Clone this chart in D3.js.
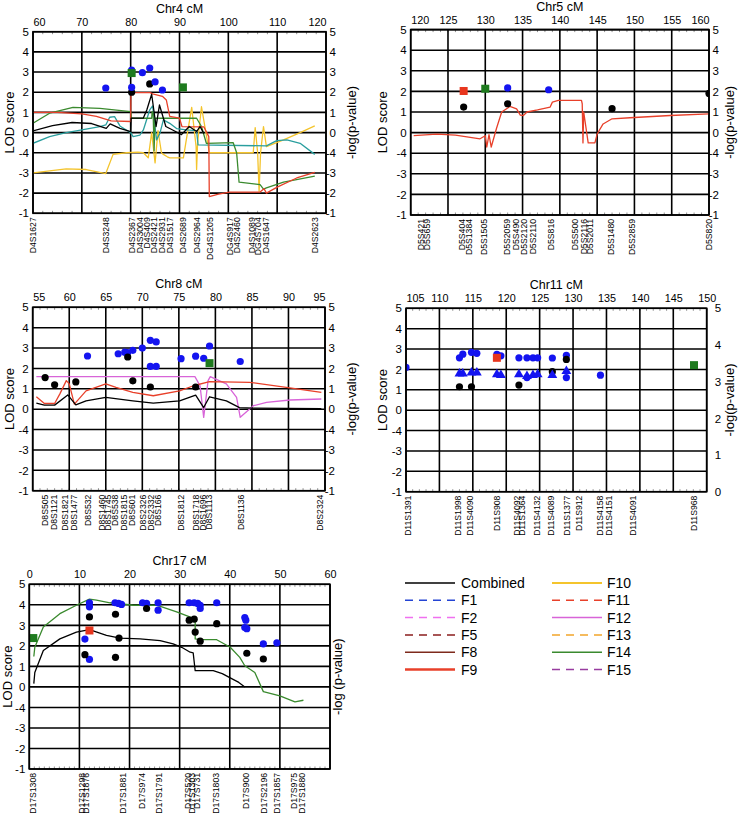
<!DOCTYPE html>
<html><head><meta charset="utf-8">
<script src="https://cdn.jsdelivr.net/npm/d3@7"></script>
<style>
body{margin:0;background:#fff;}
svg{display:block;font-family:"Liberation Sans",Arial,sans-serif;}
</style></head><body>
<svg id="c" width="738" height="814"></svg>
<script>
// ---------- shared axis data ----------
const yTickValues = [5,4,3,2,1,0,-1,-2,-3,-4];
const yTickLabels = ["5","4","3","2","1","0","-4","-3","-2","-1"];
const pTickValues = [0,1,2,3,4,5];
const pTickLabels = ["0","1","2","3","4","5"];

// ---------- Chr4 ----------
const chr4Ticks = [60,70,80,90,100,110,120];
const chr4MarkerNames = ["D4S1627","D4S3248","D4S2367","D4S3004","D4S409","D4S2421","D4S2931","D4S1517","D4S2689","D4S2964","DG4S1205","DG4S917","D4S2460","D4S1089","DG4S704","D4S1647","D4S2623"];
const chr4MarkerCM = [60,74.9,80.2,81.9,83.3,84.8,86.4,87.9,90.7,93.6,96.1,100.3,101.8,104.8,106.1,107.7,117.7];
const chr4Combined = [[60,0.08],[64,0.35],[68,0.5],[72,0.45],[75,0.21],[75.8,0.43],[77.8,0.21],[80,0.05],[80.1,0.72],[82.6,0.72],[83.3,1.12],[84.3,1.9],[85.2,0.3],[85.9,1.37],[87.2,0.3],[88.6,0.13],[90.4,-0.1],[92,0.3],[93.5,0.05],[94.2,0.3],[95,-0.05]];
const chr4F9 = [[60,1.0],[65,1.0],[70,0.93],[73,0.8],[75,0.65],[76,0.58],[80,0.55],[80.05,1.98],[84,1.98],[84.5,1.92],[86.5,1.8],[87.3,1.62],[88,0.8],[90,0.72],[90.5,0.3],[95,0.28],[96,-0.2],[96.1,-3.17],[98,-3.05],[100.3,-2.95],[106.5,-2.95],[107.3,-2.78],[107.8,-3.0],[110,-2.7],[114,-2.25],[117.7,-1.97]];
const chr4F14 = [[60,0.46],[63.4,0.96],[68.2,1.25],[73.7,1.2],[80,1.04],[80.2,0.71],[84.3,0.71],[84.4,1.04],[84.6,1.0],[84.8,-0.9],[85.0,0.71],[93.5,0.71],[94.5,0.3],[95.5,-0.53],[101,-0.5],[101.7,-1.0],[102.2,-2.46],[106.5,-2.58],[107.2,-2.8],[107.8,-2.74],[111.3,-2.46],[117.7,-2.16]];
const chr4Teal = [[60,-0.53],[63.4,-0.2],[66.8,0.0],[70,0.13],[73.7,0.3],[74.9,0.38],[75.7,0.76],[76.7,0.79],[77.8,0.33],[79.1,0.13],[80,0.0],[80.5,-0.2],[81.9,-0.12],[82.6,0.13],[83.2,0.59],[83.9,1.12],[84.5,1.32],[85.3,-0.36],[86,-0.03],[86.7,0.63],[88,0.46],[89.4,0.2],[91.4,0.13],[93.5,0.1],[93.8,-0.61],[107.8,-0.66],[109.9,-0.4],[112,-0.36],[114.7,-0.53],[117.7,-1.08]];
const chr4F10 = [[60,-2.0],[66.8,-1.8],[70.9,-1.83],[74.9,-2.03],[76.4,-1.08],[79.1,-1.0],[81.5,-0.97],[82.6,-1.0],[83.6,-1.25],[84.3,0.0],[85.0,-1.5],[85.6,0.1],[86.3,-1.0],[86.7,-1.08],[87.5,-1.2],[88,-1.25],[90.8,-1.25],[91.3,-0.5],[92.5,1.25],[93.4,-0.7],[93.5,-1.83],[93.7,-0.53],[94.5,1.28],[95.9,-0.7],[96.1,-1.0],[105.1,-1.0],[105.5,0.25],[106.0,-1.0],[106.3,-2.9],[106.6,-1.0],[107.2,0.3],[107.8,-0.7],[111.3,-0.36],[114.7,0.0],[117.7,0.33]];
const chr4BlueDots = [[74.9,2.21],[80.2,3.1],[80.2,2.24],[82.4,2.97],[83.9,3.2],[85.0,2.51],[86.5,2.11]];
const chr4BlackDots = [[80.2,2.0],[83.9,2.41]];
const chr4GreenSquares = [[80.2,2.95],[90.7,2.24]];

// ---------- Chr5 ----------
const chr5Ticks = [120,125,130,135,140,145,150,155,160];
const chr5MarkerNames = ["D5S421","D5S659","D5S404","D5S1384","D5S1505","D5S2059","D5S490","D5S2120","D5S2110","D5S816","D5S500","D5S2116","D5S2011","D5S1480","D5S2859","D5S820"];
const chr5MarkerCM = [121.3,122.2,126.8,127.8,129.8,132.9,134.1,135.2,136.4,138.8,142.0,143.2,144.0,146.8,149.6,159.9];
const chr5F9 = [[120.4,-0.15],[123.5,-0.07],[126,-0.12],[129.3,-0.3],[130,-0.15],[130.2,-0.7],[130.5,-0.1],[130.8,-0.7],[131.5,0.2],[132.2,1.0],[133.3,1.27],[134.2,1.15],[134.7,0.85],[135.1,0.83],[135.6,1.0],[137,1.1],[138.7,1.24],[139,1.48],[139.8,1.56],[142.9,1.56],[143.0,1.4],[143.1,-0.5],[143.2,1.0],[143.8,-0.5],[144.7,-0.5],[145,-0.07],[145.8,0.42],[147,0.67],[149.4,0.72],[154.8,0.83],[160,0.91]];
const chr5BlueDots = [[133.0,2.17],[138.5,2.08]];
const chr5BlackDots = [[127.1,1.24],[133.0,1.4],[147.0,1.16],[160.0,1.9]];
const chr5GreenSquares = [[130.0,2.13]];
const chr5RedSquares = [[127.1,2.02]];

// ---------- Chr8 ----------
const chr8Ticks = [55,60,65,70,75,80,85,90,95];
const chr8MarkerNames = ["D8S505","D8S1121","D8S1821","D8S1477","D8S532","D8S1460","D8S1745","D8S538","D8S1815","D8S601","D8S2326","D8S2332","D8S166","D8S1812","D8S1718","D8S1696","D8S1113","D8S1136","D8S2324"];
const chr8MarkerCM = [56.7,57.9,59.4,60.6,62.5,64.5,65.3,66.2,67.4,68.6,70.0,71.1,72.1,75.3,77.3,78.2,79.1,83.4,94.3];
const chr8Combined = [[55.5,0.3],[56.6,0.2],[58,0.2],[59.8,0.7],[60.9,0.21],[62.3,0.41],[65,0.58],[68.7,0.41],[71.5,0.3],[75.1,0.41],[77.3,0.69],[78.4,0.08],[79.2,0.61],[81.5,0.41],[83.3,0.08],[85.2,0.05],[94.5,0.03]];
const chr8F9 = [[55.5,0.61],[56.6,0.28],[58.0,0.28],[58.7,0.74],[59.6,1.4],[60,1.24],[60.7,0.25],[62.3,0.9],[65,1.24],[66.4,1.07],[68.7,0.83],[71.5,0.66],[75.1,0.9],[77,1.15],[79.2,1.35],[84.7,1.32],[89.7,1.07],[94.5,0.83]];
const chr8F12 = [[55.5,1.6],[77.2,1.6],[77.9,1.15],[78.4,-0.4],[79,1.4],[79.3,1.6],[81.5,1.24],[82.9,0.58],[83.4,-0.4],[85.2,0.17],[87,0.33],[90.2,0.45],[94.5,0.5]];
const chr8BlueDots = [[62.5,2.61],[66.7,2.72],[67.6,2.8],[68.0,2.78],[68.7,2.89],[70.0,3.0],[71.1,3.38],[71.9,3.3],[71.1,2.1],[71.9,2.1],[75.3,2.48],[77.3,2.6],[78.4,2.5],[79.2,3.1],[83.4,2.34]];
const chr8BlackDots = [[56.7,1.55],[58.0,1.2],[60.9,1.34],[68.0,2.56],[68.7,1.39],[71.1,1.09],[77.3,1.09]];
const chr8GreenSquares = [[79.2,2.26]];

// ---------- Chr11 ----------
const chr11Ticks = [105,110,115,120,125,130,135,140,145,150];
const chr11MarkerNames = ["D11S1391","D11S1998","D11S4090","D11S908","D11S4092","D11S1364","D11S4132","D11S4089","D11S1377","D11S912","D11S4158","D11S4151","D11S4091","D11S968"];
const chr11MarkerCM = [105.3,112.7,114.6,118.5,121.6,122.3,124.6,126.7,129.0,130.8,134.0,135.3,138.9,148.0];
const chr11BlueDots = [[105.0,2.1],[113.0,2.57],[113.5,2.75],[114.8,2.84],[115.6,2.79],[118.6,2.74],[119.2,2.67],[121.9,2.57],[123.1,2.57],[124.0,2.57],[124.7,2.57],[126.9,2.56],[129.0,2.69],[129.0,1.6],[123.1,1.6],[134.1,1.72]];
const chr11BlueTriangles = [[113.0,1.79],[113.5,1.79],[114.8,1.84],[115.6,1.84],[118.6,1.75],[119.2,1.72],[121.9,1.75],[123.1,1.67],[124.0,1.72],[124.7,1.75],[126.9,1.72],[129.0,1.92]];
const chr11BlackDots = [[113.0,1.15],[114.8,1.15],[121.9,1.23],[126.9,1.89],[129.0,2.49]];
const chr11RedSquares = [[118.6,2.57]];
const chr11GreenSquares = [[148.1,2.21]];

// ---------- Chr17 ----------
const chr17Ticks = [0,10,20,30,40,50,60];
const chr17MarkerNames = ["D17S1308","D17S1298","D17S1876","D17S1881","D17S974","D17S1791","D17S520","D17S1303","D17S731","D17S1803","D17S900","D17S2196","D17S1857","D17S975","D17S1880"];
const chr17MarkerCM = [0.6,10.4,11.3,18.6,22.4,25.9,31.6,32.5,33.4,37.1,43.2,46.7,49.4,52.7,54.4];
const chr17Combined = [[0.9,0.16],[1.1,0.7],[2.8,1.77],[6.1,2.34],[9.4,2.67],[12,2.79],[15.4,2.51],[18.1,2.38],[22.1,2.34],[26.1,2.26],[28.7,2.1],[30.4,1.93],[32.1,1.69],[32.7,1.66],[33.1,0.79],[36.7,0.79],[38.5,0.65],[40,0.45],[41.8,0.22],[43,0]];
const chr17F14 = [[0.9,1.48],[1.1,1.93],[2.8,2.92],[6.1,3.57],[9.4,3.98],[12,4.28],[13.4,4.23],[16.1,4.1],[20.8,3.98],[25.4,3.98],[29.4,3.66],[32.4,3.38],[33.1,3.16],[33.1,2.34],[34.1,2.3],[37.4,2.3],[40.1,1.93],[42,1.44],[43,1.03],[45,0.7],[46.7,-0.23],[50,-0.44],[53,-0.73],[54.7,-0.65]];
const chr17BlueDots = [[12,4.1],[12,3.9],[11.1,2.33],[12,1.34],[17.1,4.1],[17.8,4.07],[18.4,4.02],[22.6,4.1],[23.4,4.07],[25.7,4.1],[25.7,3.74],[31.9,4.1],[32.9,4.1],[33.6,4.07],[34.1,3.98],[34.1,3.82],[37.4,4.1],[43.0,3.38],[43.2,3.25],[43.0,2.89],[43.4,2.84],[46.7,2.1],[49.4,2.15]];
const chr17BlackDots = [[12,3.41],[11.1,1.57],[17.2,3.54],[17.2,1.44],[17.9,2.38],[23.4,3.82],[31.9,3.25],[32.9,3.3],[33.1,2.67],[34.1,2.23],[37.4,3.08],[43.4,1.64],[46.7,1.36]];
const chr17GreenSquares = [[0.8,2.38]];
const chr17RedSquares = [[12.0,2.75]];

// ---------- legend ----------
const legendLabelsLeft = ["Combined","F1","F2","F5","F8","F9"];
const legendLabelsRight = ["F10","F11","F12","F13","F14","F15"];

// ---------- styles ----------
const C = {
  combined:"#000000", F1:"#2444d4", F2:"#f070f0", F5:"#8b1e1e", F8:"#7e2a1c", F9:"#e8402a",
  F10:"#f4c42c", F11:"#e8402a", F12:"#d864d8", F13:"#f2a52a", F14:"#3a8a2e", F15:"#983ca0",
  teal:"#2a9e9e", blue:"#1414f0", black:"#000000", green:"#1e7a1e", red:"#e8361e"
};
const legendStyle = {
  Combined:{c:C.combined,d:null,w:1.5}, F1:{c:C.F1,d:"8,6",w:1.5}, F2:{c:C.F2,d:"8,6",w:1.5},
  F5:{c:C.F5,d:"8,6",w:1.5}, F8:{c:C.F8,d:null,w:1.5}, F9:{c:C.F9,d:null,w:2.5},
  F10:{c:C.F10,d:null,w:2}, F11:{c:C.F11,d:"8,6",w:1.5}, F12:{c:C.F12,d:null,w:1.5},
  F13:{c:C.F13,d:"8,6",w:1.5}, F14:{c:C.F14,d:null,w:1.5}, F15:{c:C.F15,d:"8,6",w:1.5}
};

const svg = d3.select("#c");
let clipId = 0;

function drawPanel(p){
  const x = d3.scaleLinear().domain(p.domain).range([p.x0,p.x1]);
  const y = d3.scaleLinear().domain([-4,5]).range([p.y1,p.y0]);
  const g = svg.append("g");
  const id = "clip"+(clipId++);
  g.append("clipPath").attr("id",id).append("rect")
    .attr("x",p.x0).attr("y",p.y0).attr("width",p.x1-p.x0).attr("height",p.y1-p.y0);

  // minor ticks
  const step = (p.ticks[1]-p.ticks[0])/p.minor;
  const minors = d3.range(p.domain[0], p.domain[1]+1e-9, step);
  g.selectAll(".mt").data(minors).enter().append("line")
    .attr("x1",d=>x(d)).attr("x2",d=>x(d)).attr("y1",p.y0).attr("y2",p.y0+2.5)
    .attr("stroke","#777").attr("stroke-width",0.8);
  g.selectAll(".mb").data(minors).enter().append("line")
    .attr("x1",d=>x(d)).attr("x2",d=>x(d)).attr("y1",p.y1).attr("y2",p.y1-2.5)
    .attr("stroke","#777").attr("stroke-width",0.8);

  // grid
  g.selectAll(".gv").data(p.ticks).enter().append("line")
    .attr("x1",d=>x(d)).attr("x2",d=>x(d)).attr("y1",p.y0).attr("y2",p.y1)
    .attr("stroke","#000").attr("stroke-width",1.6);
  g.selectAll(".gh").data(yTickValues).enter().append("line")
    .attr("x1",p.x0).attr("x2",p.x1).attr("y1",d=>y(d)).attr("y2",d=>y(d))
    .attr("stroke","#000").attr("stroke-width",1.6);

  // top axis labels
  const ax = g.append("g").attr("transform",`translate(0,${p.y0-6})`)
    .call(d3.axisTop(x).tickValues(p.ticks).tickSize(0).tickPadding(0).tickFormat(d3.format("d")));
  ax.select(".domain").remove();
  ax.selectAll("text").attr("font-size",10.8).attr("fill","#000").attr("font-family","Liberation Sans, Arial, sans-serif");
  const n = p.ticks.length;
  ax.selectAll("text").attr("text-anchor",(d,i)=> i===0 && p.startFirst ? "start" : (i===n-1 && p.endLast ? "end" : "middle"));

  // left axis labels
  const al = g.append("g").attr("transform",`translate(${p.x0-4},0)`)
    .call(d3.axisLeft(y).tickValues(yTickValues).tickSize(0).tickPadding(0).tickFormat((d,i)=>yTickLabels[i]));
  al.select(".domain").remove();
  al.selectAll("text").attr("font-size",11.5).attr("fill","#000").attr("font-family","Liberation Sans, Arial, sans-serif");

  // right axis labels
  if(p.right==="lod"){
    const ar = g.append("g").attr("transform",`translate(${p.x1+10},0)`)
      .call(d3.axisLeft(y).tickValues(yTickValues).tickSize(0).tickPadding(0).tickFormat((d,i)=>yTickLabels[i]));
    ar.select(".domain").remove();
    ar.selectAll("text").attr("font-size",11.5).attr("fill","#000").attr("font-family","Liberation Sans, Arial, sans-serif");
  } else if(p.right==="p"){
    const yp = d3.scaleLinear().domain([0,5]).range([p.y1,p.y0]);
    const ar = g.append("g").attr("transform",`translate(${p.x1+8},0)`)
      .call(d3.axisRight(yp).tickValues(pTickValues).tickSize(0).tickPadding(0).tickFormat((d,i)=>pTickLabels[i]));
    ar.select(".domain").remove();
    ar.selectAll("text").attr("font-size",11.5).attr("fill","#000").attr("font-family","Liberation Sans, Arial, sans-serif");
  }

  // titles
  g.append("text").attr("x",(p.x0+p.x1)/2).attr("y",p.y0-19).attr("text-anchor","middle")
    .attr("font-size",12.5).text(p.title);
  const ym = (p.y0+p.y1)/2;
  g.append("text").attr("transform",`translate(${p.leftTitleX},${ym}) rotate(-90)`)
    .attr("text-anchor","middle").attr("dy","0.35em").attr("font-size",13).text("LOD score");
  g.append("text").attr("transform",`translate(${p.rightTitleX},${ym}) rotate(-90)`)
    .attr("text-anchor","middle").attr("dy","0.35em").attr("font-size",13).text(p.rightTitle);

  // marker labels
  g.selectAll(".mk").data(p.markerNames).enter().append("text")
    .attr("transform",(d,i)=>`translate(${x(p.markerCM[i])},${p.y1+4}) rotate(-90) scale(0.92,1)`)
    .attr("text-anchor","end").attr("dy","0.35em").attr("font-size",9.4).text(d=>d);

  // lines
  const line = d3.line().x(d=>x(d[0])).y(d=>y(d[1]));
  const lg = g.append("g").attr("clip-path",`url(#${id})`);
  (p.lines||[]).forEach(l=>{
    lg.append("path").datum(l.data).attr("d",line).attr("fill","none")
      .attr("stroke",l.color).attr("stroke-width",l.w||1.3).attr("stroke-linejoin","round");
  });

  // points (clipped to the plot box)
  const pg = g.append("g").attr("clip-path",`url(#${id})`);
  (p.dots||[]).forEach(s=>{
    pg.selectAll(null).data(s.data).enter().append("circle")
      .attr("cx",d=>x(d[0])).attr("cy",d=>y(d[1])).attr("r",3.6).attr("fill",s.color);
  });
  (p.squares||[]).forEach(s=>{
    pg.selectAll(null).data(s.data).enter().append("rect")
      .attr("x",d=>x(d[0])-4).attr("y",d=>y(d[1])-4).attr("width",8).attr("height",8).attr("fill",s.color);
  });
  (p.triangles||[]).forEach(s=>{
    pg.selectAll(null).data(s.data).enter().append("path")
      .attr("d",d3.symbol().type(d3.symbolTriangle).size(42))
      .attr("transform",d=>`translate(${x(d[0])},${y(d[1])})`).attr("fill",s.color);
  });

  // border
  g.append("rect").attr("x",p.x0).attr("y",p.y0).attr("width",p.x1-p.x0).attr("height",p.y1-p.y0)
    .attr("fill","none").attr("stroke","#000").attr("stroke-width",1.6);
}

drawPanel({title:"Chr4 cM", domain:[60,120], ticks:chr4Ticks, minor:5, x0:33, x1:326, y0:31.7, y1:213.3,
  startFirst:true, endLast:true, right:"lod", leftTitleX:9, rightTitleX:351, rightTitle:"-log(p-value)",
  markerNames:chr4MarkerNames, markerCM:chr4MarkerCM,
  lines:[{data:chr4F10,color:C.F10},{data:chr4Teal,color:C.teal},{data:chr4F14,color:C.F14},{data:chr4F9,color:C.F9},{data:chr4Combined,color:C.combined}],
  dots:[{data:chr4BlackDots,color:C.black},{data:chr4BlueDots,color:C.blue}],
  squares:[{data:chr4GreenSquares,color:C.green}]});

drawPanel({title:"Chr5 cM", domain:[120,160], ticks:chr5Ticks, minor:5, x0:410.7, x1:709, y0:29.6, y1:215,
  startFirst:true, endLast:true, right:"lod", leftTitleX:382, rightTitleX:729.5, rightTitle:"-log(p-value)",
  markerNames:chr5MarkerNames, markerCM:chr5MarkerCM,
  lines:[{data:chr5F9,color:C.F9}],
  dots:[{data:chr5BlackDots,color:C.black},{data:chr5BlueDots,color:C.blue}],
  squares:[{data:chr5GreenSquares,color:C.green},{data:chr5RedSquares,color:C.red}]});

drawPanel({title:"Chr8 cM", domain:[55,95], ticks:chr8Ticks, minor:5, x0:32.7, x1:325, y0:307.3, y1:490.7,
  startFirst:true, endLast:true, right:"lod", leftTitleX:9, rightTitleX:351, rightTitle:"-log(p-value)",
  markerNames:chr8MarkerNames, markerCM:chr8MarkerCM,
  lines:[{data:chr8F12,color:C.F12},{data:chr8F9,color:C.F9},{data:chr8Combined,color:C.combined}],
  dots:[{data:chr8BlueDots,color:C.blue},{data:chr8BlackDots,color:C.black}],
  squares:[{data:chr8GreenSquares,color:C.green}]});

drawPanel({title:"Chr11 cM", domain:[105,150], ticks:chr11Ticks, minor:5, x0:406, x1:706.7, y0:308.3, y1:491.7,
  startFirst:true, endLast:false, right:"p", leftTitleX:382, rightTitleX:729.5, rightTitle:"-log(p-value)",
  markerNames:chr11MarkerNames, markerCM:chr11MarkerCM,
  dots:[{data:chr11BlueDots,color:C.blue},{data:chr11BlackDots,color:C.black}],
  triangles:[{data:chr11BlueTriangles,color:C.blue}],
  squares:[{data:chr11RedSquares,color:C.red},{data:chr11GreenSquares,color:C.green}]});

drawPanel({title:"Chr17 cM", domain:[0,60], ticks:chr17Ticks, minor:10, x0:29.3, x1:330, y0:584.3, y1:769,
  startFirst:false, endLast:false, right:"none", leftTitleX:7, rightTitleX:337, rightTitle:"-log (p-value)",
  markerNames:chr17MarkerNames, markerCM:chr17MarkerCM,
  lines:[{data:chr17Combined,color:C.combined},{data:chr17F14,color:C.F14}],
  dots:[{data:chr17BlueDots,color:C.blue},{data:chr17BlackDots,color:C.black}],
  squares:[{data:chr17GreenSquares,color:C.green},{data:chr17RedSquares,color:C.red}]});

// legend
const legRowsY = [583,600.3,617.6,634.9,652.2,669.5];
function legendCol(labels, lx0, lx1, tx){
  const lg = svg.append("g");
  labels.forEach((lab,i)=>{
    const s = legendStyle[lab];
    lg.append("line").attr("x1",lx0).attr("x2",lx1).attr("y1",legRowsY[i]).attr("y2",legRowsY[i])
      .attr("stroke",s.c).attr("stroke-width",s.w).attr("stroke-dasharray",s.d);
    lg.append("text").attr("x",tx).attr("y",legRowsY[i]).attr("dy","0.36em").attr("font-size",14).text(lab);
  });
}
legendCol(legendLabelsLeft,405,455,461);
legendCol(legendLabelsRight,552,602,607);
</script>
</body></html>
